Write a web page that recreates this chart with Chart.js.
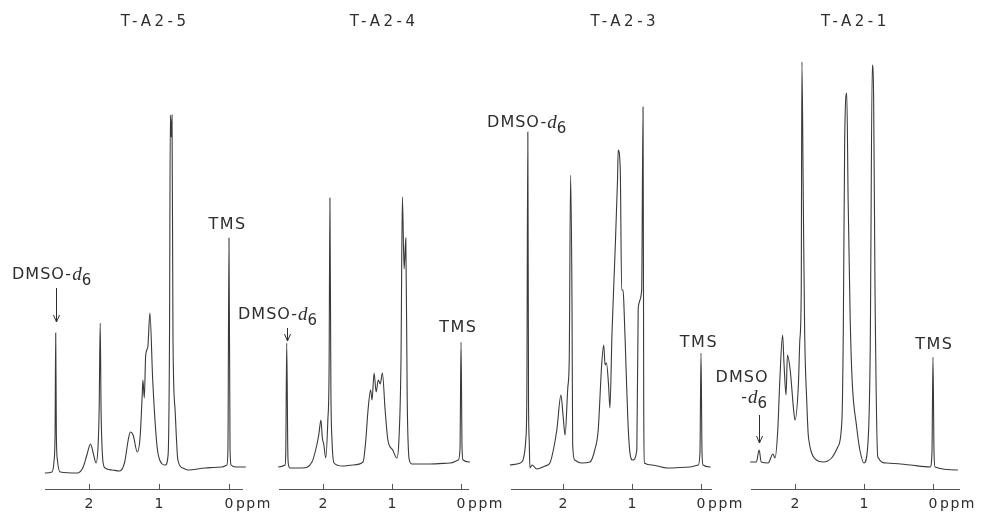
<!DOCTYPE html>
<html>
<head>
<meta charset="utf-8">
<script src="https://cdn.jsdelivr.net/npm/chart.js@4.4.1/dist/chart.umd.min.js"></script>
<style>
html,body{margin:0;padding:0;background:#ffffff;}
#wrap{position:relative;width:982px;height:516px;overflow:hidden;background:#ffffff;}
#wrap canvas{position:absolute;left:0;top:0;}
</style>
</head>
<body>
<div id="wrap">
<canvas id="c5" width="982" height="516"></canvas>
<canvas id="c4" width="982" height="516"></canvas>
<canvas id="c3" width="982" height="516"></canvas>
<canvas id="c1" width="982" height="516"></canvas>
</div>
<script>
// ---- data (chemical shift in ppm, relative intensity) ----
const titles = ['T-A2-5', 'T-A2-4', 'T-A2-3', 'T-A2-1'];
const tickValues = [2, 1, 0];
const tickLabels = ['2', '1', '0'];
const unitLabel = 'ppm';

const ppm5 = [2.63, 2.53, 2.50, 2.485, 2.476, 2.467, 2.45, 2.41, 2.17, 2.09, 2.03, 1.98, 1.94, 1.90, 1.87, 1.855, 1.84, 1.828, 1.815, 1.80, 1.77, 1.67, 1.56, 1.49, 1.44, 1.41, 1.37, 1.31, 1.27, 1.24, 1.23, 1.21, 1.19, 1.16, 1.13, 1.09, 1.03, 0.99, 0.91, 0.87, 0.85, 0.838, 0.826, 0.814, 0.80, 0.77, 0.73, 0.66, 0.59, 0.34, 0.10, 0.03, 0.015, 0.0, -0.015, -0.03, -0.10, -0.24];
const int5 = [4, 4.25, 7, 14, 39, 14, 7, 4.25, 4, 5.25, 8.5, 11.25, 9, 6.5, 11, 20, 41.5, 20, 11, 6.75, 5.25, 4.75, 4.5, 6.75, 12.25, 14.25, 13.5, 9.25, 13, 23.5, 27.25, 22.75, 33.5, 35.5, 44, 27.25, 11, 7.25, 6, 8.5, 37.25, 93.5, 88, 93.5, 37.25, 19.75, 7.25, 5.25, 4.75, 5.25, 5.5, 6, 10, 62.75, 10, 6, 5.5, 5.5];

const ppm4 = [2.65, 2.55, 2.54, 2.526, 2.51, 2.50, 2.48, 2.30, 2.16, 2.09, 2.06, 2.03, 2.01, 1.99, 1.96, 1.93, 1.912, 1.90, 1.886, 1.87, 1.84, 1.72, 1.57, 1.42, 1.38, 1.35, 1.31, 1.29, 1.26, 1.23, 1.20, 1.17, 1.14, 1.10, 1.06, 0.99, 0.93, 0.90, 0.87, 0.85, 0.825, 0.80, 0.78, 0.75, 0.71, 0.45, 0.16, 0.04, 0.015, 0, -0.015, -0.03, -0.13];
const int4 = [5.5, 6, 9, 36.5, 9, 6, 5.25, 5.25, 6.75, 11, 13.75, 17.25, 12.75, 11.25, 7.75, 17.25, 30, 72.75, 25, 12.25, 6.5, 5.75, 6, 6.75, 12.25, 19.25, 24.75, 22.25, 29, 24.25, 27.25, 26.25, 29, 19.75, 12.25, 9.75, 7.75, 12.25, 32.25, 73, 55, 62.75, 22.25, 7.25, 6.25, 6.25, 6.5, 7.25, 10, 36.75, 10, 7.25, 6.75];

const ppm3 = [2.77, 2.62, 2.58, 2.54, 2.525, 2.51, 2.50, 2.49, 2.48, 2.45, 2.38, 2.26, 2.19, 2.14, 2.09, 2.03, 2.00, 1.97, 1.93, 1.91, 1.89, 1.87, 1.86, 1.83, 1.73, 1.61, 1.54, 1.49, 1.44, 1.41, 1.39, 1.37, 1.34, 1.32, 1.29, 1.25, 1.21, 1.20, 1.17, 1.15, 1.13, 1.12, 1.09, 1.06, 1.03, 0.99, 0.93, 0.91, 0.86, 0.84, 0.83, 0.82, 0.71, 0.49, 0.16, 0.04, 0.015, 0, -0.015, -0.03, -0.14];
const int3 = [6, 6.5, 7.25, 12.25, 22, 89.25, 22, 12.25, 5.25, 6, 5, 5.75, 6.5, 9.75, 14.75, 23.5, 18.5, 13.5, 25.5, 32.25, 78.5, 47.25, 11, 7.25, 6.5, 6.75, 9.75, 14.75, 31, 36, 31, 31.5, 26, 20.25, 39, 57.25, 77.25, 84.75, 79.75, 49.75, 49.75, 47.25, 32.25, 17.25, 9, 7.25, 9.75, 45.25, 49.75, 95.5, 20, 6.5, 6, 5.25, 5.5, 6, 9, 34, 9, 6, 5.5];

const ppm1 = [2.65, 2.56, 2.52, 2.49, 2.39, 2.32, 2.29, 2.25, 2.22, 2.18, 2.16, 2.13, 2.11, 2.07, 2.02, 2.00, 1.95, 1.93, 1.91, 1.90, 1.88, 1.86, 1.83, 1.81, 1.80, 1.76, 1.69, 1.59, 1.47, 1.38, 1.32, 1.30, 1.28, 1.25, 1.23, 1.20, 1.17, 1.11, 1.06, 1.00, 0.94, 0.91, 0.88, 0.86, 0.84, 0.80, 0.67, 0.33, 0.04, 0.015, 0, -0.015, -0.03, -0.36];
const int1 = [6.75, 6.75, 9.75, 6.75, 6.5, 8.75, 7.75, 14.75, 27.25, 38.5, 31.5, 23.5, 33.5, 29.75, 19.75, 17.25, 26.5, 37.25, 49, 106.75, 72.25, 39, 22, 14, 12.25, 9, 7.25, 6.75, 7.75, 10.5, 17.25, 39.75, 87.25, 99, 72.25, 42.25, 26.5, 16, 9.75, 6.5, 12.25, 34.75, 106, 97.25, 49, 8, 6.5, 6, 5.5, 9, 33, 9, 5.5, 4.75];

// ---- styles ----
const LINE = '#3a3a3a';
const AXIS = '#555555';
const TEXT = '#2e2e2e';
const SANS = '"DejaVu Sans", sans-serif';
const SERIF = '"Liberation Serif", serif';

function dmsoSegs(withDash) {
  return [
    {t: withDash ? 'DMSO-' : '-', font: '16px ' + SANS, dy: 0, ls: '1px'},
    {t: 'd', font: 'italic 19px ' + SERIF, dy: 0, ls: '0px'},
    {t: '6', font: '15px ' + SANS, dy: 6, ls: '0px'}
  ];
}

const panels = [
  {canvas: 'c5', title: titles[0], ppm: ppm5, val: int5, left: 45, right: 242, max: 2.629, min: -0.186, titleX: 1.08,
   labels: [
     {segs: dmsoSegs(true), x: 3.10, y: 53.5, align: 'left'},
     {segs: [{t: 'TMS', font: '16px ' + SANS, dy: 0, ls: '1.5px'}], x: 0.02, y: 66, align: 'center'}
   ],
   arrows: [{x: 2.47, y1: 50.25, y2: 41.75}]},
  {canvas: 'c4', title: titles[1], ppm: ppm4, val: int4, left: 279, right: 468, max: 2.638, min: -0.101, titleX: 1.14,
   labels: [
     {segs: dmsoSegs(true), x: 3.232, y: 43.5, align: 'left'},
     {segs: [{t: 'TMS', font: '16px ' + SANS, dy: 0, ls: '1.5px'}], x: 0.04, y: 40.25, align: 'center'}
   ],
   arrows: [{x: 2.526, y1: 40.25, y2: 37}]},
  {canvas: 'c3', title: titles[2], ppm: ppm3, val: int3, left: 511, right: 711, max: 2.754, min: -0.145, titleX: 1.13,
   labels: [
     {segs: dmsoSegs(true), x: 3.101, y: 91.5, align: 'left'},
     {segs: [{t: 'TMS', font: '16px ' + SANS, dy: 0, ls: '1.5px'}], x: 0.03, y: 36.5, align: 'center'}
   ],
   arrows: []},
  {canvas: 'c1', title: titles[3], ppm: ppm1, val: int1, left: 751, right: 959, max: 2.638, min: -0.377, titleX: 1.15,
   labels: [
     {segs: [{t: 'DMSO', font: '16px ' + SANS, dy: 0, ls: '1px'}], x: 2.768, y: 27.75, align: 'center'},
     {segs: dmsoSegs(false), x: 2.406, y: 22.75, align: 'right'},
     {segs: [{t: 'TMS', font: '16px ' + SANS, dy: 0, ls: '1.5px'}], x: -0.02, y: 36, align: 'center'}
   ],
   arrows: [{x: 2.52, y1: 18.5, y2: 11.5}]}
];

function drawRich(ctx, segs, px, py, align) {
  let total = 0;
  segs.forEach(s => { ctx.font = s.font; ctx.letterSpacing = s.ls; s.w = ctx.measureText(s.t).width; total += s.w; });
  let cx = px;
  if (align === 'center') cx = px - total / 2;
  else if (align === 'right') cx = px - total;
  ctx.textAlign = 'left';
  ctx.textBaseline = 'middle';
  segs.forEach(s => {
    ctx.font = s.font; ctx.letterSpacing = s.ls;
    ctx.fillText(s.t, cx, py + s.dy);
    cx += s.w;
  });
  ctx.letterSpacing = '0px';
}

const nmrPlugin = {
  id: 'nmr',
  afterDraw(chart, args, o) {
    const {ctx, chartArea, scales: {x, y}} = chart;
    ctx.save();
    // tick marks rising from the axis line
    ctx.strokeStyle = AXIS;
    ctx.lineWidth = 1;
    x.ticks.forEach(t => {
      const px = Math.round(x.getPixelForValue(t.value)) + 0.5;
      ctx.beginPath();
      ctx.moveTo(px, chartArea.bottom);
      ctx.lineTo(px, chartArea.bottom - 5);
      ctx.stroke();
    });
    ctx.fillStyle = TEXT;
    // unit after the 0 label
    ctx.font = '14px ' + SANS;
    ctx.letterSpacing = '1.5px';
    ctx.textAlign = 'left';
    ctx.textBaseline = 'middle';
    ctx.fillText(unitLabel, x.getPixelForValue(0) + 7, x.top + 15.5);
    // title
    ctx.font = '15px ' + SANS;
    ctx.letterSpacing = '3.5px';
    ctx.textAlign = 'center';
    ctx.fillText(o.title, x.getPixelForValue(o.titleX) + 1.75, y.getPixelForValue(116.75));
    ctx.letterSpacing = '0px';
    // labels
    (o.labels || []).forEach(l => drawRich(ctx, l.segs, x.getPixelForValue(l.x), y.getPixelForValue(l.y), l.align));
    // arrows
    ctx.strokeStyle = TEXT;
    ctx.lineWidth = 1;
    (o.arrows || []).forEach(a => {
      const px = Math.round(x.getPixelForValue(a.x)) + 0.5;
      const y1 = y.getPixelForValue(a.y1), y2 = y.getPixelForValue(a.y2);
      ctx.beginPath();
      ctx.moveTo(px, y1); ctx.lineTo(px, y2);
      ctx.moveTo(px - 3, y2 - 7); ctx.lineTo(px, y2); ctx.lineTo(px + 3, y2 - 7);
      ctx.stroke();
    });
    ctx.restore();
  }
};

panels.forEach(p => {
  const pts = p.ppm.map((v, i) => ({x: v, y: p.val[i]}));
  new Chart(document.getElementById(p.canvas), {
    type: 'line',
    data: {datasets: [{data: pts, borderColor: LINE, borderWidth: 1.1, pointRadius: 0,
                       cubicInterpolationMode: 'monotone', fill: false, clip: false}]},
    options: {
      responsive: false,
      animation: false,
      events: [],
      layout: {padding: {left: p.left, right: 982 - p.right, top: 49, bottom: 0}},
      plugins: {
        legend: {display: false},
        tooltip: {enabled: false},
        title: {display: false},
        nmr: {title: p.title, titleX: p.titleX, labels: p.labels, arrows: p.arrows}
      },
      scales: {
        x: {
          type: 'linear', reverse: true, min: p.min, max: p.max,
          afterBuildTicks: s => { s.ticks = tickValues.map(v => ({value: v})); },
          afterFit: s => { s.height = 27; },
          grid: {display: false, drawTicks: false},
          border: {display: true, color: AXIS, width: 1},
          ticks: {padding: 7, color: TEXT, maxRotation: 0, autoSkip: false,
                  font: {family: SANS, size: 14},
                  callback: (v, i) => tickLabels[i]}
        },
        y: {display: false, min: 0, max: 110}
      }
    },
    plugins: [nmrPlugin]
  });
});
</script>
</body>
</html>
